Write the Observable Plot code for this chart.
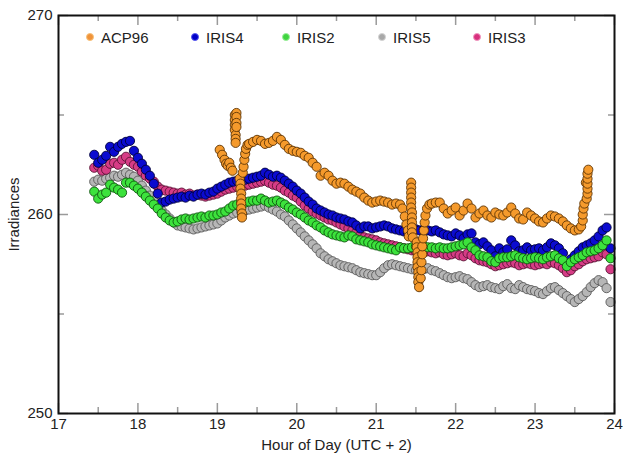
<!DOCTYPE html>
<html><head><meta charset="utf-8">
<script src="https://cdn.jsdelivr.net/npm/d3@7"></script>
<script src="https://cdn.jsdelivr.net/npm/@observablehq/plot@0.6"></script>
<style>
body{margin:0;background:#fff;}
#wrap{position:relative;width:623px;height:458px;font-family:"Liberation Sans",Arial,sans-serif;}
#legend{position:absolute;left:0;top:0;font-size:15px;color:#222;}
.item{position:absolute;display:flex;align-items:center;white-space:nowrap;height:18px;}
.sw{width:8px;height:8px;border-radius:50%;margin-right:7px;box-sizing:border-box;border:1px solid;}
</style></head>
<body><div id="wrap"><div id="legend"></div></div>
<script>
// ---- data ----
const hours = [
 17.45,17.5,17.55,17.6,17.65,17.7,17.75,17.8,17.85,17.9,17.95,
 18.0,18.05,18.1,18.15,18.2,18.25,18.3,18.35,18.4,18.45,18.5,18.55,18.6,18.65,18.7,18.75,18.8,18.85,18.9,18.95,
 19.0,19.05,19.1,19.15,19.2,19.25,19.3,19.35,19.4,19.45,19.5,19.55,19.6,19.65,19.7,19.75,19.8,19.85,19.9,19.95,
 20.0,20.05,20.1,20.15,20.2,20.25,20.3,20.35,20.4,20.45,20.5,20.55,20.6,20.65,20.7,20.75,20.8,20.85,20.9,20.95,
 21.0,21.05,21.1,21.15,21.2,21.25,21.3,21.35,21.4,21.45,21.5,21.55,21.6,21.65,21.7,21.75,21.8,21.85,21.9,21.95,
 22.0,22.05,22.1,22.15,22.2,22.25,22.3,22.35,22.4,22.45,22.5,22.55,22.6,22.65,22.7,22.75,22.8,22.85,22.9,22.95,
 23.0,23.05,23.1,23.15,23.2,23.25,23.3,23.35,23.4,23.45,23.5,23.55,23.6,23.65,23.7,23.75,23.8,23.85,23.9,23.95
];
const iris4 = [
 263.0,262.6,262.75,262.95,263.4,263.15,263.4,263.55,263.65,263.7,263.2,
 262.85,262.55,262.25,261.95,261.55,261.05,260.6,260.65,260.75,260.8,260.85,260.9,260.85,260.95,260.9,261.0,261.05,261.0,261.1,261.15,
 261.3,261.4,261.5,261.6,261.65,261.7,261.7,261.75,261.8,261.85,261.9,261.95,262.1,262.0,261.9,261.95,261.85,261.7,261.55,261.4,
 261.2,261.05,260.85,260.65,260.5,260.3,260.2,260.1,260.0,259.95,259.85,259.8,259.75,259.65,259.6,259.45,259.3,259.4,259.4,259.3,
 259.35,259.4,259.45,259.4,259.3,259.25,259.2,259.15,259.1,259.15,259.25,259.2,259.25,259.2,259.15,259.2,259.1,259.0,258.95,258.9,
 259.05,258.95,258.8,259.0,259.05,258.6,258.5,258.6,258.4,258.2,257.9,258.3,258.1,258.25,258.7,258.45,258.15,258.2,258.35,258.2,
 258.25,258.3,258.2,258.35,258.55,258.45,258.3,258.05,257.6,257.75,257.95,258.15,258.35,258.45,258.55,258.7,258.9,259.2,259.35,258.3
];
const iris3 = [
 262.35,262.45,262.2,262.25,262.55,262.6,262.5,262.75,262.9,262.65,262.5,
 262.4,262.15,261.95,261.8,261.65,261.4,261.25,261.2,261.15,261.1,261.05,261.1,261.0,261.05,260.95,261.0,260.95,260.9,260.95,261.0,
 261.05,261.15,261.25,261.3,261.35,261.4,261.4,261.45,261.5,261.55,261.6,261.65,261.7,261.6,261.5,261.45,261.35,261.2,261.1,260.95,
 260.85,260.65,260.45,260.3,260.15,260.05,259.95,259.85,259.75,259.7,259.6,259.5,259.4,259.3,259.2,259.1,258.95,258.85,258.8,258.75,
 258.7,258.6,258.55,258.5,258.45,258.4,258.35,258.3,258.25,258.2,258.15,258.2,258.1,258.15,258.1,258.05,258.1,258.0,257.95,258.0,
 258.05,257.95,257.9,258.05,257.95,257.8,257.7,257.65,257.6,257.5,257.4,257.45,257.5,257.55,257.6,257.55,257.45,257.5,257.55,257.5,
 257.45,257.5,257.55,257.5,257.6,257.55,257.45,257.3,257.1,257.2,257.4,257.5,257.65,257.75,257.8,257.85,257.9,258.1,258.0,257.25
];
const iris2 = [
 261.15,260.8,261.0,261.1,261.5,261.35,261.25,261.1,261.6,261.6,261.45,
 261.3,261.1,260.9,260.7,260.5,260.3,260.05,259.85,259.7,259.6,259.65,259.75,259.8,259.75,259.8,259.85,259.9,259.85,259.95,259.95,
 260.0,260.1,260.15,260.3,260.45,260.5,260.6,260.6,260.65,260.7,260.7,260.8,260.7,260.6,260.65,260.7,260.6,260.5,260.35,260.25,
 260.1,260.0,259.85,259.7,259.6,259.45,259.35,259.2,259.1,259.0,258.95,258.9,258.85,258.95,258.9,258.75,258.7,258.65,258.6,258.5,
 258.45,258.4,258.35,258.3,258.25,258.2,258.35,258.3,258.3,258.35,258.4,258.45,258.4,258.35,258.35,258.3,258.35,258.3,258.3,258.35,
 258.4,258.45,258.5,258.6,258.35,258.2,257.95,257.9,257.85,257.65,257.6,257.8,257.85,257.85,257.9,257.95,257.85,257.8,257.75,257.8,
 257.85,257.8,257.75,257.85,257.9,257.95,257.8,257.7,257.4,257.6,257.75,257.85,257.95,258.1,258.15,258.2,258.3,258.45,258.7,257.8
];
const iris5 = [
 261.65,261.75,261.7,261.8,261.85,261.95,261.9,262.0,262.1,262.0,261.9,
 261.7,261.45,261.2,260.95,260.7,260.45,260.2,260.0,259.8,259.6,259.45,259.4,259.35,259.3,259.25,259.3,259.35,259.4,259.45,259.5,
 259.55,259.7,259.85,259.95,260.05,260.1,260.15,260.2,260.25,260.3,260.35,260.4,260.45,260.35,260.25,260.15,260.0,259.9,259.7,259.5,
 259.3,259.1,258.9,258.7,258.5,258.3,258.05,257.9,257.75,257.65,257.55,257.45,257.4,257.35,257.3,257.2,257.1,257.05,257.0,256.95,
 256.95,257.1,257.3,257.45,257.5,257.45,257.4,257.35,257.3,257.25,257.2,257.2,257.25,257.3,257.2,257.15,257.05,256.95,256.85,256.8,
 256.85,256.9,256.8,256.75,256.6,256.45,256.35,256.4,256.45,256.35,256.3,256.25,256.4,256.5,256.3,256.25,256.45,256.35,256.25,256.2,
 256.15,256.05,256.0,256.15,256.3,256.35,256.2,256.05,255.9,255.75,255.6,255.75,255.9,256.1,256.35,256.55,256.7,256.6,256.3,255.6
];
const acpHours = [
 19.03,19.06,19.09,19.11,19.13,19.15,19.17,19.19,
 19.22,19.22,19.22,19.22,19.23,19.23,19.23,19.24,19.24,19.24,19.24,
 19.28,19.29,19.29,19.3,19.3,19.3,19.3,19.31,19.31,
 19.32,19.33,19.34,19.35,19.36,19.38,
 19.4,19.45,19.5,19.55,19.6,19.65,19.7,19.75,19.8,19.85,19.9,19.95,
 20.0,20.05,20.1,20.15,20.2,20.25,20.3,20.35,20.4,20.45,20.5,20.55,20.6,20.65,20.7,20.75,20.8,20.85,20.9,20.95,
 21.0,21.05,21.1,21.15,21.2,21.25,21.3,21.33,21.36,21.38,21.4,21.41,
 21.44,21.44,21.44,21.44,21.44,21.44,21.45,21.45,21.45,21.45,21.45,21.46,
 21.51,21.51,21.52,21.52,21.52,21.52,21.53,21.53,21.53,21.54,
 21.56,21.57,21.57,21.58,21.58,21.59,21.6,21.61,21.62,21.64,21.67,
 21.7,21.75,21.8,21.85,21.9,21.95,
 22.0,22.05,22.1,22.15,22.2,22.25,22.3,22.35,22.4,22.45,22.5,22.55,22.6,22.65,22.7,22.75,22.8,22.85,22.9,22.95,
 23.0,23.05,23.1,23.15,23.2,23.25,23.3,23.35,23.4,23.45,23.5,23.55,23.58,23.6,23.6,23.61,23.62,
 23.64,23.65,23.66,23.66,23.66,23.66,23.66,23.67
];
const acpValues = [
 263.25,263.0,262.75,262.55,262.45,262.6,262.35,262.2,
 265.0,264.75,264.5,264.25,264.0,263.8,263.6,265.1,264.9,264.6,264.4,
 261.8,261.55,261.3,261.05,260.8,260.55,260.3,260.05,259.85,
 262.1,262.4,262.75,263.05,263.3,263.5,
 263.55,263.65,263.75,263.7,263.55,263.6,263.7,263.9,263.75,263.5,263.3,263.2,
 263.15,263.1,262.95,262.85,262.6,262.4,261.95,262.1,261.95,261.7,261.55,261.6,261.55,261.4,261.25,261.15,261.05,260.85,260.7,260.6,
 260.65,260.7,260.65,260.6,260.5,260.55,260.5,260.3,259.9,259.5,259.2,258.9,
 261.6,261.35,261.1,260.85,260.6,260.35,260.1,259.85,259.6,259.35,259.1,258.85,
 258.6,258.35,258.1,257.85,257.6,257.35,257.1,256.85,256.6,256.35,
 256.8,257.2,257.6,258.0,258.4,258.8,259.2,259.6,259.95,260.3,260.5,
 260.55,260.6,260.6,260.3,260.05,260.2,
 260.35,259.95,260.2,260.55,260.3,259.85,260.05,260.2,259.95,259.85,260.1,260.0,259.95,260.1,260.35,260.05,259.8,259.75,260.1,259.95,
 259.8,259.65,259.6,259.8,259.95,259.9,259.8,259.65,259.45,259.3,259.2,259.25,259.4,259.7,260.0,260.3,260.55,
 261.6,260.8,261.05,261.3,261.55,261.8,262.05,262.25
];
const xMajor = [17, 18, 19, 20, 21, 22, 23, 24];
const xMinor = [17.5, 18.5, 19.5, 20.5, 21.5, 22.5, 23.5];
const yMajor = [250, 260, 270];
const yMinor = [255, 265];

// ---- layout / style ----
const W = 623, H = 458, mL = 58, mR = 9, mT = 15, mB = 45;
const innerW = W - mL - mR, innerH = H - mT - mB;
const styles = {
  ACP96: {fill: "#f59a2c", stroke: "#5e3404", lfill: "#f0933a", lstroke: "#f7c27a"},
  IRIS4: {fill: "#0b0bd0", stroke: "#00003a", lfill: "#0000c8", lstroke: "#5a5af0"},
  IRIS2: {fill: "#3ce23c", stroke: "#0f540f", lfill: "#3fd43f", lstroke: "#9aef9a"},
  IRIS5: {fill: "#b6b6b6", stroke: "#5a5a5a", lfill: "#a8a8a8", lstroke: "#d4d4d4"},
  IRIS3: {fill: "#d63c86", stroke: "#5a1536", lfill: "#d8307e", lstroke: "#f098c0"}
};
const legendOrder = ["ACP96", "IRIS4", "IRIS2", "IRIS5", "IRIS3"];
const legendLeft = [86, 191, 282, 378, 473];

const mk = (vals) => hours.map((h, i) => ({h, v: vals[i]}));
const acp = acpHours.map((h, i) => ({h, v: acpValues[i]}));
const dots = (data, name) => Plot.dot(data, {x: "h", y: "v", r: 4.6, fill: styles[name].fill, stroke: styles[name].stroke, strokeWidth: 0.9});
const tickCol = "#9a9a9a";

const chart = Plot.plot({
  width: W, height: H,
  marginLeft: mL, marginRight: mR, marginTop: mT, marginBottom: mB,
  x: {domain: [17, 24]},
  y: {domain: [250, 270]},
  style: {fontFamily: "'Liberation Sans', Arial, sans-serif", fontSize: "15px", color: "#222", background: "white"},
  marks: [
    Plot.tickX(xMajor, {x: d => d, stroke: tickCol, strokeWidth: 1.5, insetTop: innerH - 10}),
    Plot.tickX(xMajor, {x: d => d, stroke: tickCol, strokeWidth: 1.5, insetBottom: innerH - 10}),
    Plot.tickX(xMinor, {x: d => d, stroke: tickCol, strokeWidth: 1.5, insetTop: innerH - 6}),
    Plot.tickX(xMinor, {x: d => d, stroke: tickCol, strokeWidth: 1.5, insetBottom: innerH - 6}),
    Plot.tickY(yMajor, {y: d => d, stroke: tickCol, strokeWidth: 1.5, insetRight: innerW - 10}),
    Plot.tickY(yMajor, {y: d => d, stroke: tickCol, strokeWidth: 1.5, insetLeft: innerW - 10}),
    Plot.tickY(yMinor, {y: d => d, stroke: tickCol, strokeWidth: 1.5, insetRight: innerW - 6}),
    Plot.tickY(yMinor, {y: d => d, stroke: tickCol, strokeWidth: 1.5, insetLeft: innerW - 6}),
    Plot.axisX({ticks: xMajor, tickSize: 0, tickPadding: 5, tickFormat: d => String(d),
      label: "Hour of Day (UTC + 2)", labelAnchor: "center", labelOffset: 36, labelArrow: "none"}),
    Plot.axisY({ticks: yMajor, tickSize: 0, tickPadding: 6, tickFormat: d => String(d),
      label: "Irradiances", labelAnchor: "center", labelOffset: 50, labelArrow: "none"}),
    dots(mk(iris5), "IRIS5"),
    dots(mk(iris3), "IRIS3"),
    dots(mk(iris4), "IRIS4"),
    dots(mk(iris2), "IRIS2"),
    dots(acp, "ACP96"),
    Plot.frame({stroke: "#111", strokeWidth: 2})
  ]
});
const wrap = document.getElementById("wrap");
wrap.insertBefore(chart, wrap.firstChild);

const legend = document.getElementById("legend");
legendOrder.forEach((name, i) => {
  const it = document.createElement("div");
  it.className = "item";
  it.style.left = legendLeft[i] + "px";
  it.style.top = "28px";
  const sw = document.createElement("span");
  sw.className = "sw";
  sw.style.background = styles[name].lfill;
  sw.style.borderColor = styles[name].lstroke;
  const t = document.createElement("span");
  t.textContent = name;
  it.appendChild(sw); it.appendChild(t);
  legend.appendChild(it);
});
</script>
</body></html>
